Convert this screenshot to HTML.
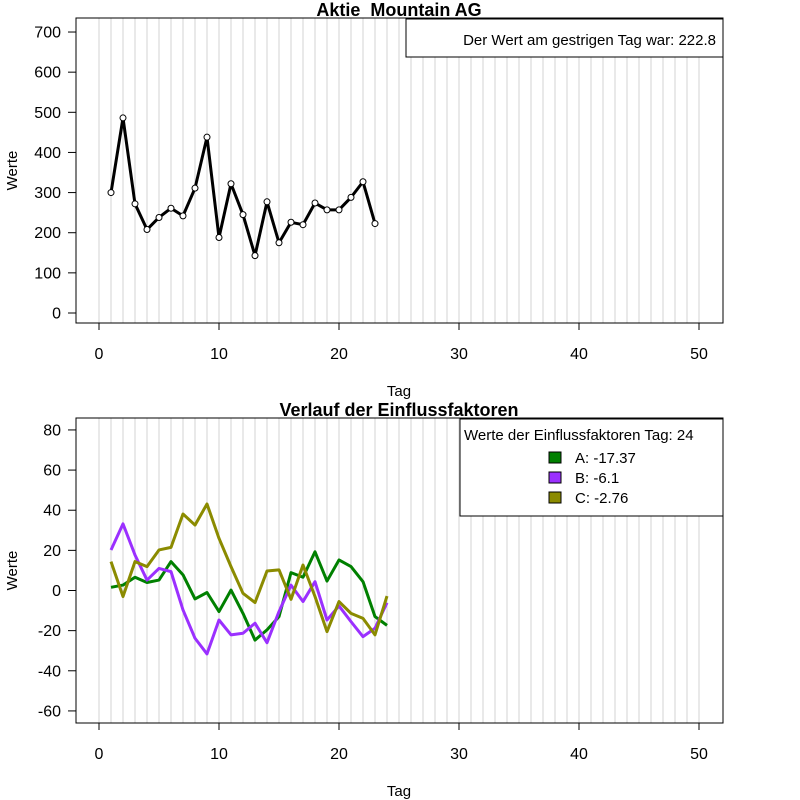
<!DOCTYPE html>
<html><head><meta charset="utf-8"><style>
body{margin:0;background:#fff}
svg{display:block;font-family:"Liberation Sans",Arial,sans-serif}
</style></head><body>
<svg id="c" width="800" height="800"></svg>
<script>
const days = [1,2,3,4,5,6,7,8,9,10,11,12,13,14,15,16,17,18,19,20,21,22,23];
const stockValues = [300,486,272,208,238,261,242,311,438,188,322,245,143,277,175,226,220,274,257,257,288,327,222.8];
const factorDays = [1,2,3,4,5,6,7,8,9,10,11,12,13,14,15,16,17,18,19,20,21,22,23,24];
const seriesA = [1.6,2.7,6.6,4,5.2,14.4,7.8,-4.2,-1,-10.5,0.2,-11.4,-24.7,-19.6,-13,8.9,6.6,19.3,4.7,15.2,11.9,4.4,-13,-17.37];
const seriesB = [20.2,33.2,17.7,5.2,11,9.4,-9.7,-23.8,-31.6,-14.7,-22.1,-21.3,-16.3,-26,-10.5,2.7,-5.5,4.4,-14.7,-7.7,-15.5,-23,-18.8,-6.1];
const seriesC = [14.4,-3,14.4,11.9,20.2,21.5,38.1,32.6,43.1,26,11.9,-1.4,-6,9.7,10.3,-4.4,12.7,-3,-20.5,-5.5,-11.4,-13.9,-22.1,-2.76];
const xTicks = [0,10,20,30,40,50];
const yTicksTop = [0,100,200,300,400,500,600,700];
const yTicksBottom = [-60,-40,-20,0,20,40,60,80];

const NS="http://www.w3.org/2000/svg";
const svg=document.getElementById('c');
function el(tag,attrs,parent,text){const e=document.createElementNS(NS,tag);for(const k in attrs)e.setAttribute(k,attrs[k]);if(text!==undefined)e.textContent=text;(parent||svg).appendChild(e);return e;}
const xs=v=>99+12*v;
const ysTop=v=>313-v*0.4014;
const ysBot=v=>590.5-v*2.007;

function panel(top,bottom,ys,yTicks,title,name){
  const g=el('g',{});
  
  
  for(let i=0;i<=50;i++){const l=el('line',{x1:xs(i),x2:xs(i),y1:top,y2:bottom,stroke:'#d3d3d3','stroke-width':1},g);
    }
  const box=el('rect',{x:76,y:top,width:647,height:bottom-top,fill:'none',stroke:'#000'},g);
  
  xTicks.forEach(t=>{el('line',{x1:xs(t),x2:xs(t),y1:bottom,y2:bottom+7,stroke:'#000'},g);
    const tx=el('text',{x:xs(t),y:bottom+36,'text-anchor':'middle','font-size':16},g,t);
    });
  yTicks.forEach(t=>{el('line',{x1:68,x2:76,y1:ys(t),y2:ys(t),stroke:'#000'},g);
    const tx=el('text',{x:61,y:ys(t)+5.5,'text-anchor':'end','font-size':16},g,t);
    });
  const xt=el('text',{x:399,y:bottom+73,'text-anchor':'middle','font-size':15},g,'Tag');
  
  const cy=(top+bottom)/2;
  const yt=el('text',{x:17,y:cy,'text-anchor':'middle','font-size':15,transform:`rotate(-90 17 ${cy})`},g,'Werte');
  
  const tt=el('text',{x:399,y:top-2,'text-anchor':'middle','font-size':18,'font-weight':'bold'},g,title);
  
  return g;
}
const g1=panel(18,323,ysTop,yTicksTop,'Aktie\u00a0 Mountain AG','stock-panel');
const pts=days.map((d,i)=>xs(d)+','+ysTop(stockValues[i])).join(' ');
const sl=el('polyline',{points:pts,fill:'none',stroke:'#000','stroke-width':3,'stroke-linejoin':'round'},g1);

days.forEach((d,i)=>{const c=el('circle',{cx:xs(d),cy:ysTop(stockValues[i]),r:3,fill:'#fff',stroke:'#000','stroke-width':1},g1);
  });
const lg1=el('g',{},g1);

el('rect',{x:406,y:19,width:317,height:38,fill:'#fff',stroke:'#000'},lg1);
el('text',{x:716,y:45,'text-anchor':'end','font-size':15},lg1,'Der Wert am gestrigen Tag war: '+stockValues[stockValues.length-1]);

const g2=panel(418,723,ysBot,yTicksBottom,'Verlauf der Einflussfaktoren','factor-panel');
const ser=[['A',seriesA,'#008000'],['B',seriesB,'#9b30ff'],['C',seriesC,'#8b8b00']];
ser.forEach(([n,arr,col])=>{
  const p=factorDays.map((d,i)=>xs(d)+','+ysBot(arr[i])).join(' ');
  const l=el('polyline',{points:p,fill:'none',stroke:col,'stroke-width':3,'stroke-linejoin':'round'},g2);
  
});
const lg2=el('g',{},g2);

el('rect',{x:460,y:419,width:263,height:97,fill:'#fff',stroke:'#000'},lg2);
el('text',{x:464,y:440,'font-size':15},lg2,'Werte der Einflussfaktoren Tag: '+factorDays[factorDays.length-1]);
ser.forEach(([n,arr,col],i)=>{
  const y=458+i*20;
  const r=el('rect',{x:549,y:y-6,width:12,height:11,fill:col,stroke:'#000'},lg2);
  
  const t=el('text',{x:575,y:y+5,'font-size':15},lg2,n+': '+arr[arr.length-1]);
  
});
</script>
</body></html>
